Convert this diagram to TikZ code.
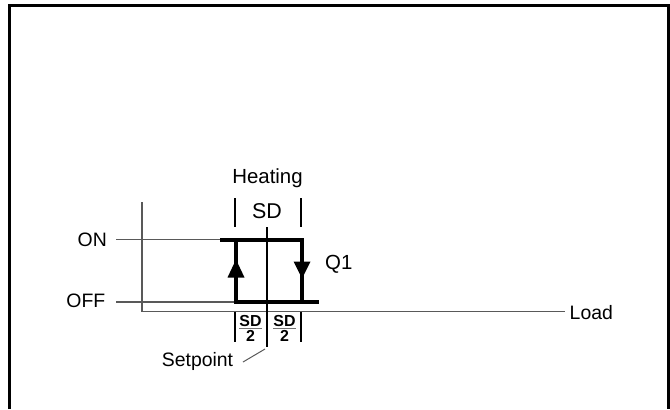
\documentclass[tikz,border=0pt]{standalone}
\usepackage{fontspec}
\setmainfont{Liberation Sans}
\begin{document}
\begin{tikzpicture}[x=1bp,y=-1bp,
  thinline/.style={line width=1.2bp, black!65},
  thickline/.style={line width=4bp, black},
  tickline/.style={line width=2bp, black},
  framel/.style={line width=3bp, black},
  lbl/.style={inner sep=0pt, font=\fontsize{19.5}{22}\selectfont},
  biglbl/.style={inner sep=0pt, font=\fontsize{20.5}{24}\selectfont},
  sdlbl/.style={inner sep=0pt, font=\fontsize{21.5}{24}\selectfont},
  fraclbl/.style={inner sep=0pt, font=\fontsize{16}{18}\selectfont\bfseries},
  fracbar/.style={line width=1.5bp, black!55},
  arrowhead/.style={fill=black},
]
\useasboundingbox (0,0) rectangle (670,409);
% frame
\draw[framel] (9.5,409) -- (9.5,5.3) -- (668,5.3) -- (668,409);

% texts
\node[biglbl, anchor=base] (heating) at (267.5,183) {Heating};
\node[sdlbl, anchor=base] (sd) at (267,218) {SD};
\node[lbl, anchor=base east] (on) at (107,246) {ON};
\node[lbl, anchor=base east] (off) at (105.5,307.5) {OFF};
\node[lbl, anchor=base west, font=\fontsize{20.5}{24}\selectfont] (q1) at (325,269) {Q1};
\node[lbl, anchor=base west] (load) at (569.5,319.5) {Load};
\node[lbl, anchor=base] (setpoint) at (197.5,366.5) {Setpoint};

% coordinates
\coordinate (onL) at (116,239.5);
\coordinate (offL) at (116,302);
\coordinate (axTop) at (142,202);
\coordinate (axO) at (142,311.5);
\coordinate (axEnd) at (565,311.5);

% axes and level lines
\draw[thinline] (axTop) -- (axO) -- (axEnd);
\draw[thinline] (onL) -- (220,239.5);
\draw[thinline] (offL) -- (236,302);

% hysteresis loop
\draw[thickline] (220,239.5) -- (302,239.5) -- (302,302);
\draw[thickline] (236,239.5) -- (236,302) -- (319,302);
\fill[arrowhead] (236,259.5) -- (227.5,277.5) -- (244.5,277.5) -- cycle;
\fill[arrowhead] (302,278.5) -- (293.5,261.5) -- (310.5,261.5) -- cycle;

% ticks
\draw[tickline] (235,198) -- (235,227);
\draw[tickline] (301,198) -- (301,227);
\draw[tickline] (267,227) -- (267,347);
\draw[tickline] (235,311.5) -- (235,342);
\draw[tickline] (301,311.5) -- (301,342);

% fractions
\node[fraclbl] (sdA) at (250.5,321.5) {SD};
\draw[fracbar] (239,328.5) -- (262,328.5);
\node[fraclbl] (twoA) at (250.5,336) {2};
\node[fraclbl] (sdB) at (284.5,321.5) {SD};
\draw[fracbar] (273,328.5) -- (296,328.5);
\node[fraclbl] (twoB) at (284.5,336) {2};

% setpoint leader
\coordinate (spTip) at (265,349);
\draw[thinline, line width=1bp] (243,362) -- (spTip);
\end{tikzpicture}
\end{document}
